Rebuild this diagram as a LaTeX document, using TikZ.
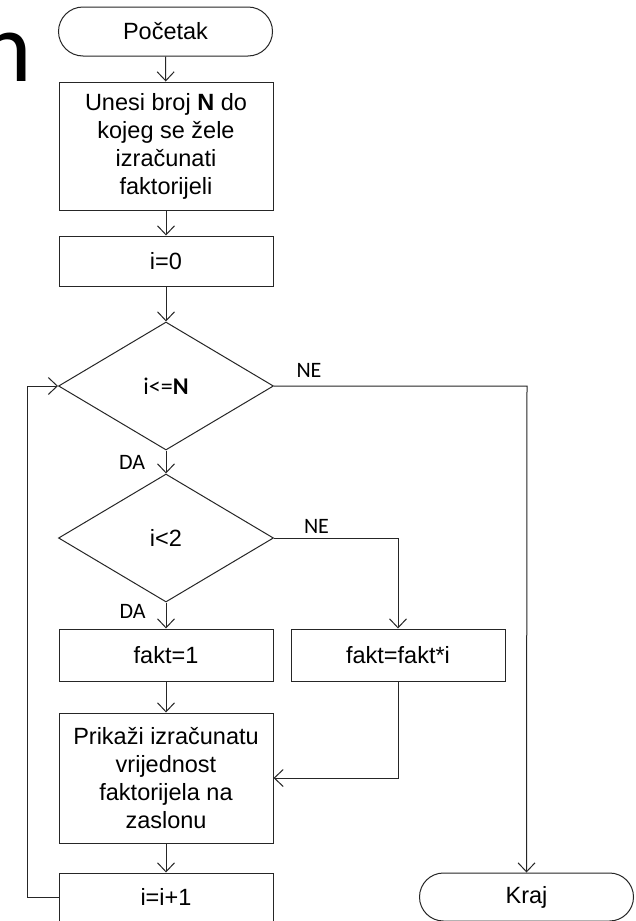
\documentclass[tikz,border=0pt]{standalone}
\usepackage{fontspec}
\setmainfont{Liberation Sans}
\newfontfamily\lblfont{Carlito}
\usetikzlibrary{arrows.meta,shapes.geometric,shapes.misc}

\tikzset{
  base/.style={draw=black!85, line width=1pt, align=center, inner sep=0pt,
    font=\fontsize{23.5}{28}\selectfont},
  procbox/.style={base, rectangle, minimum width=214pt},
  termbox/.style={base, rounded rectangle, minimum width=214pt},
  decbox/.style={base, diamond, minimum width=215pt, minimum height=128pt},
  flow/.style={draw=black!85, line width=1pt,
    -{Straight Barb[length=9pt,width=17pt,line width=1pt]}},
  yesno/.style={font=\lblfont\fontsize{22}{26}\selectfont, inner sep=0pt}
}

\begin{document}
\begin{tikzpicture}[x=1pt, y=-1pt]
  \useasboundingbox (0,0) rectangle (635,921);
  \clip (0,0) rectangle (635,921);
  \fill[white] (0,0) rectangle (635,921);

  % stray title letter at the left edge
  \node[anchor=base east, inner sep=0pt, font=\lblfont\fontsize{100}{100}\selectfont] (title) at (32,81) {n};

  % flow steps
  \node[termbox, minimum height=49pt] (start) at (165.5,31.5) {Početak};
  \node[procbox, minimum height=128pt] (input) at (166,146)
    {Unesi broj \textbf{N} do\\kojeg se žele\\izračunati\\faktorijeli};
  \node[procbox, minimum height=50pt] (init) at (166,261) {i=0};
  \node[decbox] (cond1) at (166,386) {\lblfont\fontsize{24}{28}\selectfont i<=\textbf{N}};
  \node[decbox] (cond2) at (166,538) {i<2};
  \node[procbox, minimum height=52pt] (fone) at (166,655) {fakt=1};
  \node[procbox, minimum height=52pt] (fmul) at (398,655) {fakt=fakt*i};
  \node[procbox, minimum height=130pt] (show) at (166,778)
    {Prikaži izračunatu\\vrijednost\\faktorijela na\\zaslonu};
  \node[procbox, minimum height=48pt] (incr) at (166,897) {i=i+1};
  \node[termbox, minimum height=48pt] (stop) at (526.5,897) {Kraj};

  % bend points
  \coordinate (neA) at (527,386);
  \coordinate (neB) at (398,538);
  \coordinate (joinR) at (398,778);
  \coordinate (loopB) at (27,897);
  \coordinate (loopT) at (27,386);

  % connectors
  \draw[flow] (start) -- (input);
  \draw[flow] (input) -- (init);
  \draw[flow] (init) -- (cond1);
  \draw[flow] (cond1.south) -- (cond2.north);
  \draw[flow] (cond1.east) -- (neA) -- (stop.north);
  \draw[flow] (cond2.south) -- (fone.north);
  \draw[flow] (cond2.east) -- (neB) -- (fmul.north);
  \draw[flow] (fone) -- (show);
  \draw[flow] (fmul.south) -- (joinR) -- (show.east);
  \draw[flow] (show) -- (incr);
  \draw[flow] (incr.west) -- (loopB) -- (loopT) -- (cond1.west);

  % branch labels
  \node[yesno] (da1) at (132,462) {DA};
  \node[yesno] (ne1) at (309,370) {NE};
  \node[yesno] (da2) at (132.5,611) {DA};
  \node[yesno] (ne2) at (316.5,526) {NE};
\end{tikzpicture}
\end{document}
